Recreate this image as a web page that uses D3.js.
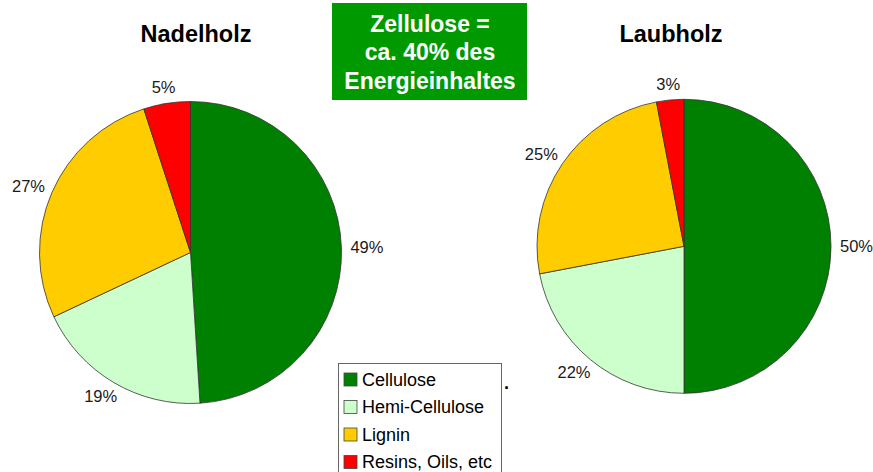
<!DOCTYPE html>
<html>
<head>
<meta charset="utf-8">
<script src="https://cdn.jsdelivr.net/npm/d3@7/dist/d3.min.js"></script>
<style>
  body { margin: 0; background: #fff; }
  svg { display: block; font-family: Arial, "Liberation Sans", sans-serif; }
</style>
</head>
<body>
<svg id="chart" width="873" height="472"></svg>
<script>
var categories = ["Cellulose", "Hemi-Cellulose", "Lignin", "Resins, Oils, etc"];
var nadelholz = [49, 19, 27, 5];
var laubholz = [50, 22, 25, 3];
var sliceColors = ["#008000", "#ccffcc", "#ffcc00", "#ff0000"];
var boxLines = ["Zellulose =", "ca. 40% des", "Energieinhaltes"];

var svg = d3.select("#chart");
var color = d3.scaleOrdinal().domain(categories).range(sliceColors);

// one pie, labels sit just outside the rim
function drawPie(title, values, cx, cy, r, titleX) {
    var rows = categories.map(function(c, i) { return { name: c, value: values[i] }; });
    var pie = d3.pie().sort(null).value(function(d) { return d.value; });
    var arc = d3.arc().innerRadius(0).outerRadius(r);
    var g = svg.append("g").attr("transform", "translate(" + cx + "," + cy + ")");

    g.selectAll("path").data(pie(rows)).enter()
        .append("path")
        .attr("d", arc)
        .attr("fill", function(d) { return color(d.data.name); })
        .attr("stroke", "#333")
        .attr("stroke-width", 0.8);

    g.selectAll("text.lbl").data(pie(rows)).enter()
        .append("text")
        .attr("class", "lbl")
        .attr("font-size", 16.5)
        .attr("fill", "#1a1a1a")
        .attr("text-anchor", "middle")
        .attr("dy", "0.35em")
        .text(function(d) { return d.data.value + "%"; })
        .attr("transform", function(d) {
            var a = (d.startAngle + d.endAngle) / 2;
            var w = this.getComputedTextLength();
            var x = Math.sin(a) * (r + 9) + Math.sin(a) * w / 2;
            var y = -Math.cos(a) * (r + 10) - Math.cos(a) * 6;
            return "translate(" + x + "," + y + ")";
        });

    svg.append("text")
        .attr("x", titleX)
        .attr("y", 41.5)
        .attr("text-anchor", "middle")
        .attr("font-size", 23.5)
        .attr("font-weight", "bold")
        .attr("fill", "#000")
        .text(title);
}

drawPie("Nadelholz", nadelholz, 190.5, 252.5, 151, 196);
drawPie("Laubholz", laubholz, 684, 246.3, 147, 671);

// green note box
var note = svg.append("g");
note.append("rect")
    .attr("x", 332).attr("y", 3)
    .attr("width", 195).attr("height", 97)
    .attr("fill", "#009a00");
note.selectAll("text").data(boxLines).enter()
    .append("text")
    .attr("x", 430)
    .attr("y", function(d, i) { return 31.5 + i * 28.5; })
    .attr("text-anchor", "middle")
    .attr("font-size", 23)
    .attr("font-weight", "bold")
    .attr("fill", "#fff")
    .text(function(d) { return d; });

// legend
var legend = svg.append("g");
legend.append("rect")
    .attr("x", 338.5).attr("y", 363.5)
    .attr("width", 163).attr("height", 120)
    .attr("fill", "#fff")
    .attr("stroke", "#666")
    .attr("stroke-width", 1);

var item = legend.selectAll("g.item").data(categories).enter()
    .append("g")
    .attr("class", "item")
    .attr("transform", function(d, i) { return "translate(344," + (379.5 + i * 27.5) + ")"; });
item.append("rect")
    .attr("x", 0).attr("y", -6.5)
    .attr("width", 13).attr("height", 13)
    .attr("fill", function(d) { return color(d); })
    .attr("stroke", "#444")
    .attr("stroke-width", 0.8);
item.append("text")
    .attr("x", 18)
    .attr("dy", "0.35em")
    .attr("font-size", 18)
    .attr("fill", "#000")
    .text(function(d) { return d; });

// stray dot next to legend
svg.append("text")
    .attr("x", 504).attr("y", 389)
    .attr("font-size", 18)
    .attr("font-weight", "bold")
    .text(".");
</script>
</body>
</html>
